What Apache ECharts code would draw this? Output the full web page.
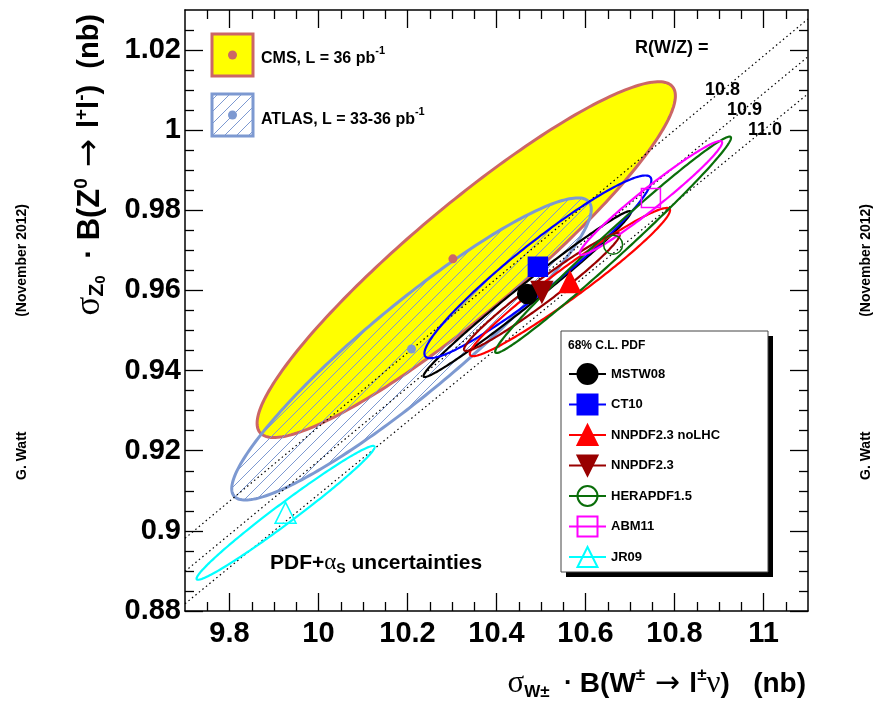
<!DOCTYPE html>
<html><head><meta charset="utf-8">
<script src="https://cdn.jsdelivr.net/npm/echarts@6/dist/echarts.min.js"></script>
<style>html,body{margin:0;padding:0;background:#fff}#c{width:888px;height:707px}</style>
</head><body><div id="c"></div>
<script>
// ---- axis ticks ----
const xMajor = [9.8, 10, 10.2, 10.4, 10.6, 10.8, 11];
const xMinor = [9.75, 9.85, 9.9, 9.95, 10.05, 10.1, 10.15, 10.25, 10.3, 10.35, 10.45, 10.5, 10.55, 10.65, 10.7, 10.75, 10.85, 10.9, 10.95, 11.05];
const yMajor = [0.88, 0.9, 0.92, 0.94, 0.96, 0.98, 1, 1.02];
const yMinor = [0.885, 0.89, 0.895, 0.905, 0.91, 0.915, 0.925, 0.93, 0.935, 0.945, 0.95, 0.955, 0.965, 0.97, 0.975, 0.985, 0.99, 0.995, 1.005, 1.01, 1.015, 1.025];

// ---- measurements ----
const expNames = ['CMS, L = 36 pb-1', 'ATLAS, L = 33-36 pb-1'];
const expW   = [10.302, 10.209];      // central values (dots)
const expZ   = [0.9679, 0.9454];
const expEllW = [10.332, 10.209];     // ellipse centres
const expEllZ = [0.9677, 0.9454];
const expSw  = [0.470, 0.404];
const expSz  = [0.0444, 0.0377];
const expRho = [0.92, 0.925];

// ---- PDF predictions ----
const pdfNames = ['MSTW08', 'CT10', 'NNPDF2.3 noLHC', 'NNPDF2.3', 'HERAPDF1.5', 'ABM11', 'JR09'];
const pdfW   = [10.469, 10.493, 10.565, 10.502, 10.662, 10.747, 9.926];
const pdfZ   = [0.9591, 0.9659, 0.9621, 0.9596, 0.9714, 0.9831, 0.9045];
const pdfSw  = [0.233, 0.255, 0.225, 0.175, 0.265, 0.160, 0.200];
const pdfSz  = [0.0207, 0.0228, 0.0185, 0.0147, 0.0270, 0.0142, 0.0167];
const pdfRho = [0.988, 0.948, 0.968, 0.972, 0.988, 0.972, 0.983];

// ---- R(W/Z) lines ----
const rValues = [10.8, 10.9, 11.0];
const rLabels = ['10.8', '10.9', '11.0'];

// ---- styles ----
const pdfColors = ['#000000', '#0000ff', '#ff0000', '#990000', '#0a6e0a', '#ff00ff', '#00ffff'];
const pdfSymbols = ['circle', 'rect', 'triangle', 'path://M0,0 L2,0 L1,2 Z', 'circle', 'rect', 'triangle'];
const pdfOpen = [false, false, false, false, true, true, true];
const expFill = ['#ffff00', null];
const expStroke = ['#cc6666', '#7d99d1'];

const FONT = '"Liberation Sans", Arial, Helvetica, sans-serif';
const GREEK = '"Liberation Serif", "DejaVu Serif", serif';

// hatch pattern
const hc = document.createElement('canvas');
hc.width = 12; hc.height = 12;
const hx = hc.getContext('2d');
hx.strokeStyle = '#7d99d1'; hx.lineWidth = 1;
hx.beginPath(); hx.moveTo(0, 12); hx.lineTo(12, 0); hx.stroke();
hx.beginPath(); hx.moveTo(-6, 6); hx.lineTo(6, -6); hx.stroke();
hx.beginPath(); hx.moveTo(6, 18); hx.lineTo(18, 6); hx.stroke();
const hatch = {image: hc, repeat: 'repeat'};

const XMIN = 9.7, XMAX = 11.1, YMIN = 0.88, YMAX = 1.03;

function ellipsePoints(api, cx, cy, sx, sy, r) {
  const q = Math.sqrt(1 - r * r), pts = [];
  for (let i = 0; i < 240; i++) {
    const t = i / 240 * 2 * Math.PI;
    pts.push(api.coord([cx + sx * Math.cos(t), cy + sy * (r * Math.cos(t) + q * Math.sin(t))]));
  }
  return pts;
}

const chart = echarts.init(document.getElementById('c'), null, {renderer: 'canvas'});

const tickLine = {color: '#000', width: 1.3};
const tickFont = {fontSize: 29, fontWeight: 'bold', fontFamily: FONT, color: '#000'};
function xAxes() {
  const base = {type: 'value', min: XMIN, max: XMAX, splitLine: {show: false}, gridIndex: 0};
  return [
    Object.assign({}, base, {position: 'bottom', axisLine: {show: true, lineStyle: {color: '#000', width: 1.5}},
      axisTick: {show: true, inside: true, length: 18, customValues: xMajor, lineStyle: tickLine},
      axisLabel: Object.assign({show: true, customValues: xMajor, margin: 8}, tickFont)}),
    Object.assign({}, base, {position: 'bottom', axisLine: {show: false},
      axisTick: {show: true, inside: true, length: 9, customValues: xMinor, lineStyle: tickLine}, axisLabel: {show: false}}),
    Object.assign({}, base, {position: 'top', axisLine: {show: true, lineStyle: {color: '#000', width: 1.5}},
      axisTick: {show: true, inside: true, length: 18, customValues: xMajor, lineStyle: tickLine}, axisLabel: {show: false}}),
    Object.assign({}, base, {position: 'top', axisLine: {show: false},
      axisTick: {show: true, inside: true, length: 9, customValues: xMinor, lineStyle: tickLine}, axisLabel: {show: false}})
  ];
}
function yAxes() {
  const base = {type: 'value', min: YMIN, max: YMAX, splitLine: {show: false}, gridIndex: 0};
  return [
    Object.assign({}, base, {position: 'left', axisLine: {show: true, lineStyle: {color: '#000', width: 1.5}},
      axisTick: {show: true, inside: true, length: 18, customValues: yMajor, lineStyle: tickLine},
      axisLabel: Object.assign({show: true, customValues: yMajor, margin: 4}, tickFont)}),
    Object.assign({}, base, {position: 'left', axisLine: {show: false},
      axisTick: {show: true, inside: true, length: 9, customValues: yMinor, lineStyle: tickLine}, axisLabel: {show: false}}),
    Object.assign({}, base, {position: 'right', axisLine: {show: true, lineStyle: {color: '#000', width: 1.5}},
      axisTick: {show: true, inside: true, length: 18, customValues: yMajor, lineStyle: tickLine}, axisLabel: {show: false}}),
    Object.assign({}, base, {position: 'right', axisLine: {show: false},
      axisTick: {show: true, inside: true, length: 9, customValues: yMinor, lineStyle: tickLine}, axisLabel: {show: false}})
  ];
}

const series = [];
expNames.forEach((n, i) => {
  series.push({
    type: 'custom', name: 'exp' + i, coordinateSystem: 'cartesian2d', xAxisIndex: 0, yAxisIndex: 0, z: 1 + i * 0.1,
    data: [[expEllW[i], expEllZ[i], expSw[i], expSz[i], expRho[i]]], encode: {x: 0, y: 1}, silent: true,
    renderItem: (params, api) => ({
      type: 'polygon',
      shape: {points: ellipsePoints(api, api.value(0), api.value(1), api.value(2), api.value(3), api.value(4))},
      style: {fill: expFill[i] || hatch, stroke: expStroke[i], lineWidth: 3}
    })
  });
});
rValues.forEach((R, i) => {
  series.push({
    type: 'line', name: 'R' + rLabels[i], xAxisIndex: 0, yAxisIndex: 0, z: 3, silent: true, symbol: 'none',
    data: [[XMIN, XMIN / R], [XMAX, XMAX / R]],
    lineStyle: {color: '#000', width: 1.2, type: [1.5, 3]}
  });
});
series.push({
  type: 'custom', name: 'pdfEllipses', coordinateSystem: 'cartesian2d', xAxisIndex: 0, yAxisIndex: 0, z: 4, silent: true,
  data: pdfNames.map((n, i) => [pdfW[i], pdfZ[i], pdfSw[i], pdfSz[i], pdfRho[i]]), encode: {x: 0, y: 1},
  renderItem: (params, api) => ({
    type: 'polygon',
    shape: {points: ellipsePoints(api, api.value(0), api.value(1), api.value(2), api.value(3), api.value(4))},
    style: {fill: 'none', stroke: pdfColors[params.dataIndex], lineWidth: 2.2}
  })
});
expNames.forEach((n, i) => {
  series.push({
    type: 'scatter', name: 'expc' + i, xAxisIndex: 0, yAxisIndex: 0, z: 5, silent: true,
    data: [[expW[i], expZ[i]]], symbol: 'circle', symbolSize: 9,
    itemStyle: {color: expStroke[i], opacity: 1}
  });
});
pdfNames.forEach((n, i) => {
  const open = pdfOpen[i];
  series.push({
    type: 'line', name: n, xAxisIndex: 0, yAxisIndex: 0, z: 6, silent: true,
    data: [[pdfW[i], pdfZ[i]]], showSymbol: true, symbol: pdfSymbols[i], symbolSize: (i === 2 || i === 3 || i === 6) ? 21 : 19,
    color: pdfColors[i],
    lineStyle: {color: pdfColors[i], width: 2},
    itemStyle: open ? {color: 'rgba(255,255,255,0)', borderColor: pdfColors[i], borderWidth: 1.5}
                    : {color: pdfColors[i], borderColor: pdfColors[i], borderWidth: 1.5}
  });
});

const xTitleRich = {
  b: {font: 'bold 28px ' + FONT, fill: '#000', lineHeight: 34},
  g: {font: '31px ' + GREEK, fill: '#000', lineHeight: 34},
  d: {font: 'bold 26px ' + FONT, fill: '#000', lineHeight: 34},
  a: {font: '30px "DejaVu Sans", sans-serif', fill: '#000', lineHeight: 34},
  sp: {font: 'bold 28px ' + FONT, fill: '#000', lineHeight: 34},
  sub: {font: 'bold 17px ' + FONT, fill: '#000', lineHeight: 4, verticalAlign: 'bottom'},
  sup: {font: 'bold 17px ' + FONT, fill: '#000', lineHeight: 14, verticalAlign: 'top'}
};
const yTitleRich = {
  b: {font: 'bold 29px ' + FONT, fill: '#000', lineHeight: 36},
  bz: {font: 'bold 31px ' + FONT, fill: '#000', lineHeight: 36},
  g: {font: '35px ' + GREEK, fill: '#000', lineHeight: 36},
  d: {font: 'bold 30px ' + FONT, fill: '#000', lineHeight: 36},
  a: {font: '34px "DejaVu Sans", sans-serif', fill: '#000', lineHeight: 36},
  sp: {font: 'bold 29px ' + FONT, fill: '#000', lineHeight: 36},
  sub: {font: 'bold 21px ' + FONT, fill: '#000', lineHeight: 2, verticalAlign: 'bottom'},
  ss: {font: 'bold 15px ' + FONT, fill: '#000', lineHeight: 30, verticalAlign: 'bottom'},
  sup: {font: 'bold 19px ' + FONT, fill: '#000', lineHeight: 14, verticalAlign: 'top'}
};

const graphic = [
  {type: 'rect', z: 10, shape: {x: 566, y: 336, width: 207, height: 241}, style: {fill: '#000'}},
  {type: 'rect', z: 10, shape: {x: 561, y: 331, width: 207, height: 241}, style: {fill: '#fff', stroke: '#444', lineWidth: 1}},
  {type: 'text', z: 11, x: 568, y: 346, style: {text: '68% C.L. PDF', font: 'bold 12px ' + FONT, fill: '#000', verticalAlign: 'middle'}},
  {type: 'rect', z: 10, shape: {x: 212, y: 34, width: 41, height: 42}, style: {fill: '#ffff00', stroke: '#cc6666', lineWidth: 3}},
  {type: 'circle', z: 11, shape: {cx: 232.5, cy: 55, r: 4.5}, style: {fill: '#cc6666'}},
  {type: 'rect', z: 10, shape: {x: 212, y: 94, width: 41, height: 42}, style: {fill: hatch, stroke: '#7d99d1', lineWidth: 3}},
  {type: 'circle', z: 11, shape: {cx: 232.5, cy: 115, r: 4.5}, style: {fill: '#7d99d1'}},
  {type: 'text', z: 11, x: 261, y: 56, style: {text: '{b|CMS, L = 36 pb}{s|-1}', verticalAlign: 'middle',
    rich: {b: {font: 'bold 16px ' + FONT, fill: '#000', lineHeight: 22, verticalAlign: 'bottom'}, s: {font: 'bold 11px ' + FONT, fill: '#000', lineHeight: 11, verticalAlign: 'top'}}}},
  {type: 'text', z: 11, x: 261, y: 117, style: {text: '{b|ATLAS, L = 33-36 pb}{s|-1}', verticalAlign: 'middle',
    rich: {b: {font: 'bold 16px ' + FONT, fill: '#000', lineHeight: 22, verticalAlign: 'bottom'}, s: {font: 'bold 11px ' + FONT, fill: '#000', lineHeight: 11, verticalAlign: 'top'}}}},
  {type: 'text', z: 11, x: 635, y: 48, style: {text: 'R(W/Z) =', font: 'bold 18px ' + FONT, fill: '#000', verticalAlign: 'middle'}},
  {type: 'text', z: 11, x: 705, y: 90, style: {text: rLabels[0], font: 'bold 18px ' + FONT, fill: '#000', verticalAlign: 'middle'}},
  {type: 'text', z: 11, x: 727, y: 110, style: {text: rLabels[1], font: 'bold 18px ' + FONT, fill: '#000', verticalAlign: 'middle'}},
  {type: 'text', z: 11, x: 748, y: 130, style: {text: rLabels[2], font: 'bold 18px ' + FONT, fill: '#000', verticalAlign: 'middle'}},
  {type: 'text', z: 11, x: 270, y: 563, style: {text: '{b|PDF+}{g|α}{s|S}{b| uncertainties}', verticalAlign: 'middle',
    rich: {b: {font: 'bold 21px ' + FONT, fill: '#000', lineHeight: 26},
           g: {font: '23px ' + GREEK, fill: '#000', lineHeight: 26},
           s: {font: 'bold 14px ' + FONT, fill: '#000', lineHeight: 6, verticalAlign: 'bottom'}}}},
  {type: 'text', z: 11, x: 806, y: 684, style: {
    text: '{g|σ}{sub|W±}{d|  · }{b|B(W}{sup|±}{a| → }{b|l}{sup|±}{g|ν}{b|)}{sp|   (nb)}', align: 'right', verticalAlign: 'middle',
    rich: xTitleRich}},
  {type: 'text', z: 11, x: 90, y: 14, rotation: Math.PI / 2, style: {
    text: '{g|σ}{sub|Z}{ss|0}{d|  · }{bz|B(Z}{sup|0}{a| → }{b|l}{sup|+}{b|l}{sup|-}{b|)}{sp|  (nb)}', align: 'right', verticalAlign: 'middle',
    rich: yTitleRich}},
  {type: 'text', z: 11, x: 22, y: 480, rotation: Math.PI / 2, style: {text: 'G. Watt', font: 'bold 14px ' + FONT, fill: '#000', align: 'left', verticalAlign: 'middle'}},
  {type: 'text', z: 11, x: 22, y: 204, rotation: Math.PI / 2, style: {text: '(November 2012)', font: 'bold 14px ' + FONT, fill: '#000', align: 'right', verticalAlign: 'middle'}},
  {type: 'text', z: 11, x: 866, y: 480, rotation: Math.PI / 2, style: {text: 'G. Watt', font: 'bold 14px ' + FONT, fill: '#000', align: 'left', verticalAlign: 'middle'}},
  {type: 'text', z: 11, x: 866, y: 204, rotation: Math.PI / 2, style: {text: '(November 2012)', font: 'bold 14px ' + FONT, fill: '#000', align: 'right', verticalAlign: 'middle'}}
];

chart.setOption({
  animation: false,
  backgroundColor: '#fff',
  grid: {left: 185, right: 80, top: 10, bottom: 96, containLabel: false},
  xAxis: xAxes(),
  yAxis: yAxes(),
  legend: {
    data: pdfNames, orient: 'vertical', left: 568, top: 363, padding: 0, z: 12,
    itemWidth: 37, itemHeight: 25, itemGap: 8.5, selectedMode: false,
    textStyle: {fontFamily: FONT, fontWeight: 'bold', fontSize: 13, color: '#000'}
  },
  graphic: graphic,
  series: series
});
</script></body></html>
